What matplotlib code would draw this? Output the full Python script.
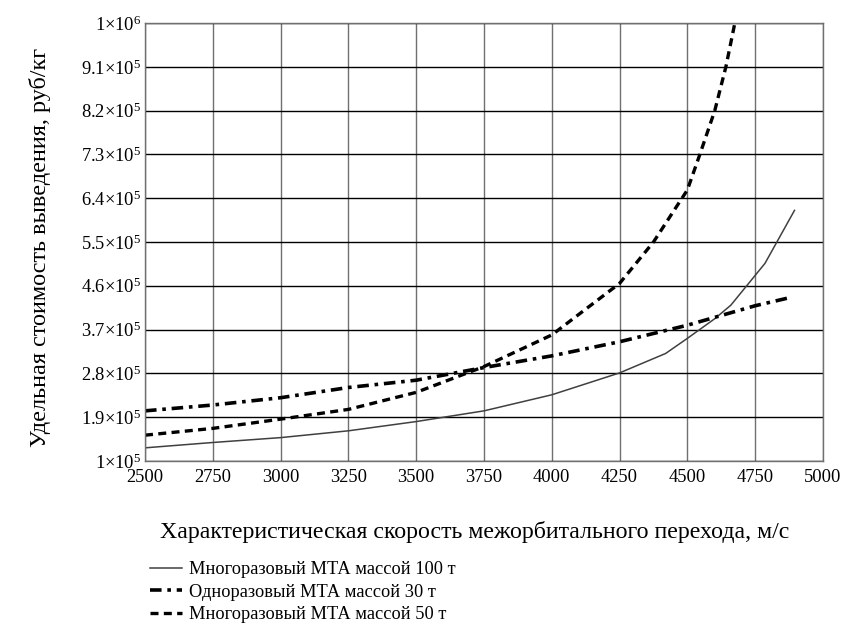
import numpy as np
import matplotlib
matplotlib.use("Agg")
import matplotlib.pyplot as plt
from matplotlib.ticker import FixedLocator, FuncFormatter

plt.rcParams["font.family"] = ["Liberation Serif", "DejaVu Serif"]
plt.rcParams["mathtext.fontset"] = "custom"
plt.rcParams["mathtext.rm"] = "Liberation Serif"
plt.rcParams["mathtext.it"] = "Liberation Serif:italic"

# многоразовый МТА 100 т
v_100 = [2500, 2750, 3000, 3250, 3500, 3750, 4000, 4250, 4420, 4500, 4600, 4660, 4786, 4895]
c_100 = [1.27, 1.38, 1.48, 1.62, 1.81, 2.03, 2.36, 2.81, 3.21, 3.52, 3.92, 4.20, 5.06, 6.15]

# одноразовый МТА 30 т
v_30 = [2500, 2750, 3000, 3250, 3500, 3750, 4000, 4250, 4500, 4750, 4880]
c_30 = [2.03, 2.15, 2.30, 2.51, 2.66, 2.92, 3.16, 3.45, 3.79, 4.19, 4.36]

# многоразовый МТА 50 т
v_50 = [2500, 2750, 3000, 3250, 3500, 3750, 4000, 4250, 4375, 4500, 4546, 4601, 4642, 4675]
c_50 = [1.53, 1.67, 1.86, 2.06, 2.41, 2.94, 3.59, 4.65, 5.50, 6.57, 7.30, 8.20, 9.10, 10.0]

labels = ["Многоразовый МТА массой 100 т",
          "Одноразовый МТА массой 30 т",
          "Многоразовый МТА массой 50 т"]

x_ticks = [2500, 2750, 3000, 3250, 3500, 3750, 4000, 4250, 4500, 4750, 5000]
y_ticks = [1.0, 1.9, 2.8, 3.7, 4.6, 5.5, 6.4, 7.3, 8.2, 9.1, 10.0]


def fmt_y(val, pos):
    v = val * 1e5
    exp = int(np.floor(np.log10(v) + 1e-9))
    mant = v / 10 ** exp
    m = ("%.1f" % mant).rstrip("0").rstrip(".")
    return r"$%s{\times}10^{%d}$" % (m, exp)


fig = plt.figure(figsize=(8.48, 6.32), dpi=100)
ax = fig.add_axes([0.171, 0.2706, 0.7995, 0.693])

ax.plot(np.array(v_100), np.array(c_100), color="#404040", lw=1.1, label=labels[0])
ax.plot(np.array(v_30), np.array(c_30), color="black", lw=2.6,
        dashes=(3.2, 1.6, 1.0, 1.6), label=labels[1])
ax.plot(np.array(v_50), np.array(c_50), color="black", lw=2.4,
        dashes=(2.4, 1.6), label=labels[2])

ax.set_xlim(2500, 5000)
ax.set_ylim(1.0, 10.0)
ax.xaxis.set_major_locator(FixedLocator(x_ticks))
ax.yaxis.set_major_locator(FixedLocator(y_ticks))
ax.yaxis.set_major_formatter(FuncFormatter(fmt_y))
ax.tick_params(length=0, labelsize=13.3)
ax.tick_params(axis="x", pad=6)
ax.tick_params(axis="y", pad=3)

ax.grid(axis="x", color="#707070", lw=1.0)
ax.grid(axis="y", color="black", lw=1.0)
for s in ax.spines.values():
    s.set_color("#707070")
    s.set_linewidth(1.0)

fig.text(0.56, 1 - 532 / 632, "Характеристическая скорость межорбитального перехода, м/с",
         ha="center", va="center", fontsize=17.2)
fig.text(40 / 848, 1 - 247 / 632, "Удельная стоимость выведения, руб/кг",
         ha="center", va="center", rotation=90, fontsize=17.5)

fig.legend(loc="upper left", bbox_to_anchor=(143 / 848, 1 - 554 / 632),
           frameon=False, fontsize=13.2, handlelength=1.7, handletextpad=0.4,
           labelspacing=0.3, borderaxespad=0)

fig.savefig("out.png", dpi=100)
